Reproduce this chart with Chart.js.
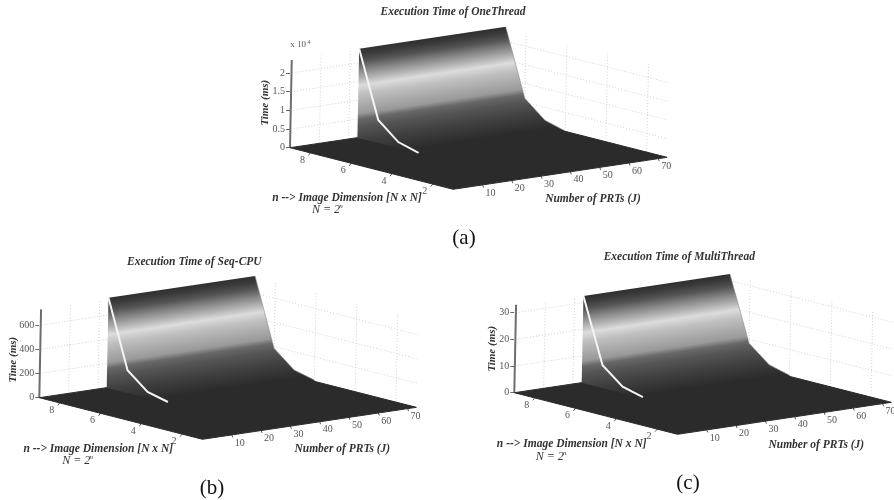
<!DOCTYPE html>
<html><head><meta charset="utf-8">
<style>
html,body{margin:0;padding:0;background:#fff;width:894px;height:500px;overflow:hidden}
canvas{position:absolute;filter:blur(0.45px)}
</style>
<script src="https://cdn.jsdelivr.net/npm/chart.js@4/dist/chart.umd.min.js"></script>
</head><body>
<canvas id="a"></canvas><canvas id="b"></canvas><canvas id="c"></canvas>
<script>
// ---- data ----
const surfaceN = [9, 8, 7, 6];
const oneThreadTimes = [23800, 6100, 1600, 100];
const seqCpuTimes = [742, 187, 50, 10];
const multiThreadTimes = [32.5, 8.5, 2.4, 0.4];
const oneThreadTicks = [0, 5000, 10000, 15000, 20000];
const seqCpuTicks = [0, 200, 400, 600];
const multiThreadTicks = [0, 10, 20, 30];
const nTicks = [2, 4, 6, 8];
const jTicks = [10, 20, 30, 40, 50, 60, 70];
const ridgeStartJ = 23;

// ---- view geometry ----
const J_MAX = 73, N_MIN = 1, N_MAX = 9;
const JX = 2.93, JY = -0.438, NX = 20.4, NY = 5.2, TILT = 0.02;
const BANDS = [[0,'#2f2f2f'],[.05,'#3a3a3a'],[.12,'#555'],[.2,'#888'],[.27,'#b0b0b0'],[.34,'#dcdcdc'],
  [.42,'#c0c0c0'],[.52,'#aaa'],[.6,'#999'],[.65,'#686868'],[.72,'#555'],[.85,'#3f3f3f'],[1,'#2b2b2b']];
const TXT = '"Liberation Serif","Times New Roman",serif';

const panels = [
 {id:'a',left:240,top:0,w:440,h:250,ox:290,oy:147.7,u:5000/18.67,times:oneThreadTimes,ticks:oneThreadTicks,wallTop:23500,axisTop:23500,
  title:'Execution Time of OneThread',tx:163,timeDx:-25,timeDy:-45,nDx:57,nDy:50,eqDx:38,eqDy:62,numDx:303,numDy:51,
  fmt:v=>String(v/10000),caption:'(a)',capX:464,capY:238,exp:true},
 {id:'b',left:0,top:250,w:440,h:250,ox:39.3,oy:397.7,u:200/24.2,times:seqCpuTimes,ticks:seqCpuTicks,wallTop:742,axisTop:730,
  title:'Execution Time of Seq-CPU',tx:155,timeDx:-26,timeDy:-38,nDx:59,nDy:51.3,eqDx:39,eqDy:63,numDx:303,numDy:51,
  fmt:v=>String(v),caption:'(b)',capX:212,capY:488},
 {id:'c',left:470,top:245,w:424,h:255,ox:514.3,oy:392.7,u:10/26.67,times:multiThreadTimes,ticks:multiThreadTicks,wallTop:32.5,axisTop:33,
  title:'Execution Time of MultiThread',tx:165,timeDx:-22.6,timeDy:-44,nDx:57.4,nDy:51.3,eqDx:37.4,eqDy:64,numDx:302,numDy:52.3,
  fmt:v=>String(v),caption:'(c)',capX:688,capY:483}
];

function build(p){
  const proj=(J,n,t)=>({x:J*JX+(N_MAX-n)*NX+TILT*t/p.u, y:-(J*JY+(N_MAX-n)*NY)*p.u+t});
  const axisW=p.ox-p.left;
  const gap={x:NaN,y:NaN};
  const line=(data,color,width,extra)=>Object.assign({data,showLine:true,pointRadius:0,borderColor:color,borderWidth:width,fill:false,clip:false,tension:0},extra||{});

  // back-wall grid
  const grid=[];
  p.ticks.filter(t=>t>0).forEach(t=>{
    grid.push(proj(0,N_MAX,t),proj(J_MAX,N_MAX,t),proj(J_MAX,N_MIN,t),gap);
  });
  jTicks.forEach(J=>{ if(J<ridgeStartJ){grid.push(proj(J,N_MAX,0),proj(J,N_MAX,p.wallTop),gap);} });
  nTicks.forEach(n=>{grid.push(proj(J_MAX,n,0),proj(J_MAX,n,p.wallTop),gap);});

  const floor=[proj(0,N_MAX,0),proj(0,N_MIN,0),proj(J_MAX,N_MIN,0),proj(J_MAX,N_MAX,0),proj(0,N_MAX,0)];

  const lastN=surfaceN[surfaceN.length-1];
  const silhouette=[proj(ridgeStartJ,N_MAX,0),proj(ridgeStartJ,surfaceN[0],p.times[0])];
  surfaceN.forEach((n,i)=>silhouette.push(proj(J_MAX,n,p.times[i])));
  silhouette.push(proj(J_MAX,lastN,0),proj(ridgeStartJ,lastN,0),proj(ridgeStartJ,N_MAX,0));

  const edge=surfaceN.map((n,i)=>proj(ridgeStartJ,n,p.times[i]));
  const rightEdge=surfaceN.map((n,i)=>proj(J_MAX,n,p.times[i]));

  const ticksOut=[];
  nTicks.forEach(n=>{const a=proj(0,n,0);ticksOut.push(a,{x:a.x-2,y:a.y-2.5*p.u},gap);});
  jTicks.forEach(J=>{const a=proj(J,N_MIN,0);ticksOut.push(a,{x:a.x+1,y:a.y-2.5*p.u},gap);});

  const gradient=(ctx)=>{
    const c=ctx.chart, xs=c.scales.x, ys=c.scales.y;
    if(!xs||!ys||!c.chartArea) return '#888';
    const top=proj(ridgeStartJ,N_MAX,p.times[0]);
    const x0=xs.getPixelForValue(top.x), y0=ys.getPixelForValue(top.y);
    const len=Math.hypot(JX,JY), d=107;
    const g=c.ctx.createLinearGradient(x0,y0,x0+(-JY/len)*d,y0+(JX/len)*d);
    BANDS.forEach(s=>g.addColorStop(s[0],s[1]));
    return g;
  };

  const backToFront=[
    line(grid,'#d0d0d0',1,{borderDash:[1,2]}),
    line([proj(0,N_MAX,0),proj(0,N_MAX,p.axisTop)],'#6e6e6e',2),
    line(ticksOut,'#555',1),
    line(floor,'#2b2b2b',1,{backgroundColor:'#2b2b2b',fill:'shape'}),
    line(silhouette,'rgba(0,0,0,0)',0,{backgroundColor:gradient,fill:'shape'}),
    line(rightEdge,'#8a8a8a',0.6),
    line(edge,'#f4f4f4',2)
  ];

  const labels={id:'labels',afterDraw(c){
    const x=c.ctx, xs=c.scales.x, ys=c.scales.y;
    const at=v=>[xs.getPixelForValue(v.x),ys.getPixelForValue(v.y)];
    const put=(s,px,py,font,col,rot)=>{x.save();x.translate(px,py);if(rot)x.rotate(rot);x.font=font+' '+TXT;x.fillStyle=col;x.textAlign='center';x.textBaseline='middle';x.fillText(s,0,0);x.restore();};
    const ax=p.ox-p.left, ay=p.oy-p.top;
    nTicks.forEach(n=>{const [a,b]=at(proj(0,n,0));put(String(n),a-8,b+7.5,'10px','#555');});
    jTicks.forEach(J=>{const [a,b]=at(proj(J,N_MIN,0));put(String(J),a+8,b+8,'10px','#555');});
    const B='italic bold 11.5px';
    put(p.title,ax+p.tx,ay-135.7,'italic bold 11.5px','#333');
    put('Time (ms)',ax+p.timeDx,ay+p.timeDy,'italic bold 11px','#333',-Math.PI/2);
    put('n --> Image Dimension [N x N]',ax+p.nDx,ay+p.nDy,B,'#333');
    put('N = 2',ax+p.eqDx-2,ay+p.eqDy,'italic 12px','#333');
    put('n',ax+p.eqDx+13,ay+p.eqDy-4,'italic 7px','#333');
    put('Number of PRTs (J)',ax+p.numDx,ay+p.numDy,B,'#333');
    if(p.exp){put('x 10',ax+8,ay-103,'9px','#555');put('4',ax+19,ay-105,'6px','#555');}
    put(p.caption,p.capX-p.left,p.capY-p.top,'21px','#111');
  }};

  const el=document.getElementById(p.id);
  el.width=p.w;el.height=p.h;el.style.left=p.left+'px';el.style.top=p.top+'px';
  new Chart(el,{
    type:'scatter',
    data:{datasets:backToFront.reverse()},
    options:{responsive:false,animation:false,events:[],
      layout:{padding:0},
      plugins:{legend:{display:false},tooltip:{enabled:false},title:{display:false}},
      scales:{
        x:{type:'linear',display:false,min:0,max:p.w-axisW},
        y:{type:'linear',min:(p.oy-(p.top+p.h))*p.u,max:(p.oy-p.top)*p.u,
          afterBuildTicks(s){s.ticks=p.ticks.map(v=>({value:v}));},
          afterFit(s){s.width=axisW;s.paddingTop=0;s.paddingBottom=0;},
          border:{display:false},
          grid:{drawOnChartArea:false,drawTicks:true,tickLength:4,tickColor:'#666',tickWidth:1},
          ticks:{callback:v=>p.fmt(v),color:'#555',padding:1,font:{family:TXT,size:10}}
        }
      }
    },
    plugins:[labels]
  });
}
panels.forEach(build);
</script>
</body></html>
